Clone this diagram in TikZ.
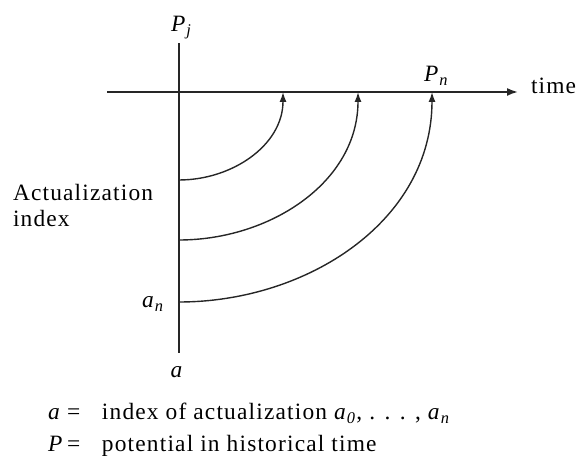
\documentclass[tikz,border=0pt]{standalone}
\usepackage{fontspec}
\setmainfont[LetterSpace=5]{Liberation Serif}
\usetikzlibrary{arrows.meta}
\tikzset{
  ax/.style    = {line width=1.8pt, black!85},
  axarr/.style = {ax, -{Latex[length=11pt,width=8pt]}},
  crv/.style   = {line width=1.4pt, black!85, -{Latex[length=10pt,width=7pt]}},
  lbl/.style   = {font=\fontsize{23.5}{26}\selectfont,
                  inner sep=0pt, outer sep=0pt}
}

\begin{document}
\begin{tikzpicture}[x=1bp, y=1bp]
  \useasboundingbox (0,0) rectangle (578,463);
  \coordinate (Vt) at (179,420);
  \coordinate (Vb) at (179,110);
  \coordinate (Hl) at (107,371);
  \coordinate (Hr) at (518,371);

  %% Axes
  \draw[ax] (Vb) -- (Vt);
  \draw[axarr] (Hl) -- (Hr);

  %% Index points and their potentials on the time axis
  \coordinate (a1) at (179,283);
  \coordinate (a2) at (179,223);
  \coordinate (an) at (179,161);
  \coordinate (p1) at (283,371);
  \coordinate (p2) at (358,371);
  \coordinate (pn) at (432,371);

  %% Curves
  \draw[crv] (a1) to[out=0, in=-90] (p1);
  \draw[crv] (a2) to[out=0, in=-90] (p2);
  \draw[crv] (an) to[out=0, in=-90] (pn);

  %% Labels
  \node[lbl, anchor=base west] (Pj) at (171,431) {\textit{P}\textsubscript{\textit{j}}};
  \node[lbl, anchor=base west] (Pn) at (424,381) {\textit{P}\textsubscript{\textit{n}}};
  \node[lbl, anchor=base west] (time) at (531,369) {time};
  \node[lbl, anchor=base west] (lan) at (142,155) {\textit{a}\textsubscript{\textit{n}}};
  \node[lbl, anchor=base] (la) at (177,85) {\textit{a}};
  \node[lbl, anchor=north west, align=left] (idx) at (13,279) {Actualization\\index};

  %% Legend
  \node[lbl, anchor=base west] (leg1) at (48,43)
    {\makebox[54bp][l]{\makebox[19bp][l]{\textit{a}}=}index of actualization
     \textit{a}\textsubscript{\textit{0}}, . . . , \textit{a}\textsubscript{\textit{n}}};
  \node[lbl, anchor=base west] (leg2) at (48,11)
    {\makebox[54bp][l]{\makebox[19bp][l]{\textit{P}}=}potential in historical time};
\end{tikzpicture}
\end{document}
